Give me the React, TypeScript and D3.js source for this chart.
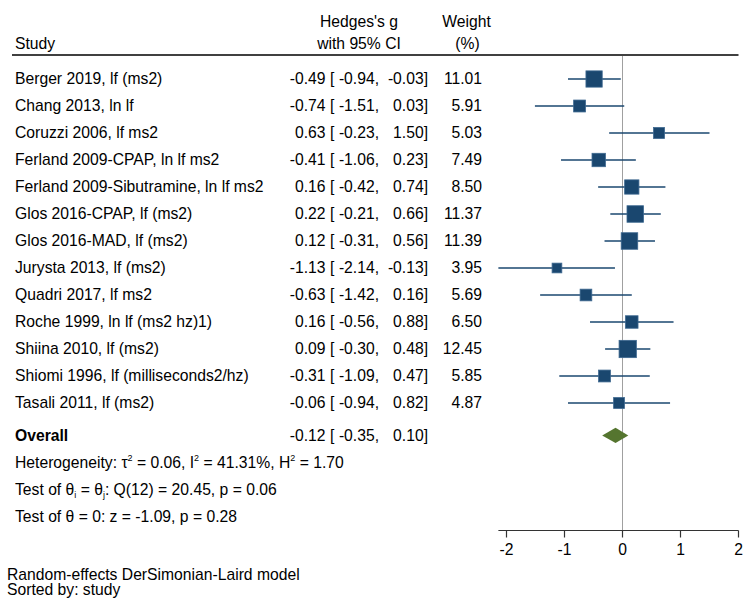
import React from "react";
import * as d3 from "d3";

const studies = [
  "Berger 2019, lf (ms2)",
  "Chang 2013, ln lf",
  "Coruzzi 2006, lf ms2",
  "Ferland 2009-CPAP, ln lf ms2",
  "Ferland 2009-Sibutramine, ln lf ms2",
  "Glos 2016-CPAP, lf (ms2)",
  "Glos 2016-MAD, lf (ms2)",
  "Jurysta 2013, lf (ms2)",
  "Quadri 2017, lf ms2",
  "Roche 1999, ln lf (ms2 hz)1)",
  "Shiina 2010, lf (ms2)",
  "Shiomi 1996, lf (milliseconds2/hz)",
  "Tasali 2011, lf (ms2)",
];
const effects = [-0.49, -0.74, 0.63, -0.41, 0.16, 0.22, 0.12, -1.13, -0.63, 0.16, 0.09, -0.31, -0.06];
const lowers = [-0.94, -1.51, -0.23, -1.06, -0.42, -0.21, -0.31, -2.14, -1.42, -0.56, -0.3, -1.09, -0.94];
const uppers = [-0.03, 0.03, 1.5, 0.23, 0.74, 0.66, 0.56, -0.13, 0.16, 0.88, 0.48, 0.47, 0.82];
const weights = [11.01, 5.91, 5.03, 7.49, 8.5, 11.37, 11.39, 3.95, 5.69, 6.5, 12.45, 5.85, 4.87];

const overallEffect = -0.12;
const overallLower = -0.35;
const overallUpper = 0.1;

const xTicks = [-2, -1, 0, 1, 2];

const W = 750;
const H = 604;
const FONT = "'Liberation Sans', Arial, Helvetica, sans-serif";
const FS = 15.7;
const NAVY = "#1a476f";
const GREEN = "#55752f";

const fmt = (v: number) => d3.format(".2f")(v).replace("\u2212", "-");

export default function App() {
  const x = d3.scaleLinear().domain([-2, 2]).range([506.5, 738.5]);
  const y = d3.scaleLinear().domain([0, 1]).range([79, 106]);
  const sizeScale = d3.scaleSqrt().domain([0, 1]).range([0, 4.9]);

  const xMin = Math.min(d3.min(lowers) as number, -2);
  const xMax = Math.max(d3.max(uppers) as number, 2);

  const overallRow = 13.2;
  const hetRow = 14.2;
  const test1Row = 15.2;
  const test2Row = 16.2;
  const axisY = 530.5;
  const ruleY = 55;
  const TX = 15;

  const effectCols = (e: number, lo: number, hi: number, yy: number) => (
    <g>
      <text x={325.5} y={yy} dy="0.35em" textAnchor="end">{fmt(e)}</text>
      <text x={330} y={yy} dy="0.35em" textAnchor="start">[</text>
      <text x={379} y={yy} dy="0.35em" textAnchor="end">{fmt(lo) + ","}</text>
      <text x={428} y={yy} dy="0.35em" textAnchor="end">{fmt(hi) + "]"}</text>
    </g>
  );

  return (
    <svg
      width={W}
      height={H}
      style={{ position: "absolute", left: 0, top: 0, background: "#fff" }}
      fontFamily={FONT}
      fontSize={FS}
      fill="#000"
    >
      <rect x={0} y={0} width={W} height={H} fill="#fff" />
      {/* Header */}
      <text x={TX} y={43.3} dy="0.35em">Study</text>
      <text x={359} y={21.7} dy="0.35em" textAnchor="middle">Hedges's g</text>
      <text x={359} y={43.3} dy="0.35em" textAnchor="middle">with 95% CI</text>
      <text x={466.5} y={21.7} dy="0.35em" textAnchor="middle">Weight</text>
      <text x={467.5} y={43.3} dy="0.35em" textAnchor="middle">(%)</text>
      <line x1={12} x2={738.5} y1={ruleY} y2={ruleY} stroke="#000" strokeWidth={1.6} />

      {/* zero line */}
      <line x1={x(0)} x2={x(0)} y1={ruleY + 1} y2={axisY} stroke="#a0a0a0" strokeWidth={1} />

      {/* Study rows */}
      {studies.map((s, i) => {
        const yy = y(i);
        const side = sizeScale(weights[i]);
        return (
          <g key={s}>
            <text x={TX} y={yy} dy="0.35em">{s}</text>
            {effectCols(effects[i], lowers[i], uppers[i], yy)}
            <text x={482} y={yy} dy="0.35em" textAnchor="end">{fmt(weights[i])}</text>
            <line x1={x(lowers[i])} x2={x(uppers[i])} y1={yy} y2={yy} stroke={NAVY} strokeWidth={1.5} />
            <rect
              x={x(effects[i]) - side / 2}
              y={yy - side / 2}
              width={side}
              height={side}
              fill={NAVY}
              stroke="#3d6890"
              strokeWidth={0.8}
            />
          </g>
        );
      })}

      {/* Overall */}
      <text x={TX} y={y(overallRow)} dy="0.35em" fontWeight="bold">Overall</text>
      {effectCols(overallEffect, overallLower, overallUpper, y(overallRow))}
      <path
        d={`M${x(overallLower)},${y(overallRow)} L${x(overallEffect)},${y(overallRow) - 7.7} L${x(overallUpper)},${y(overallRow)} L${x(overallEffect)},${y(overallRow) + 7.7} Z`}
        fill={GREEN}
      />

      {/* Heterogeneity & tests */}
      <text x={TX} y={y(hetRow)} dy="0.35em">
        Heterogeneity: τ
        <tspan dy={-7} fontSize={9}>2</tspan>
        <tspan dy={7}> = 0.06, I</tspan>
        <tspan dy={-7} fontSize={9}>2</tspan>
        <tspan dy={7}> = 41.31%, H</tspan>
        <tspan dy={-7} fontSize={9}>2</tspan>
        <tspan dy={7}> = 1.70</tspan>
      </text>
      <text x={TX} y={y(test1Row)} dy="0.35em">
        Test of θ
        <tspan dy={3} fontSize={9}>i</tspan>
        <tspan dy={-3}> = θ</tspan>
        <tspan dy={3} fontSize={9}>j</tspan>
        <tspan dy={-3}>: Q(12) = 20.45, p = 0.06</tspan>
      </text>
      <text x={TX} y={y(test2Row)} dy="0.35em">Test of θ = 0: z = -1.09, p = 0.28</text>

      {/* Axis */}
      <line x1={x(xMin)} x2={x(xMax)} y1={axisY} y2={axisY} stroke="#333" strokeWidth={1.2} />
      {xTicks.map((t) => (
        <g key={t}>
          <line x1={x(t)} x2={x(t)} y1={axisY} y2={axisY + 7} stroke="#333" strokeWidth={1.2} />
          <text x={x(t)} y={axisY + 19} dy="0.35em" textAnchor="middle">{String(t)}</text>
        </g>
      ))}

      {/* Footer */}
      <text x={7} y={575} dy="0.35em">Random-effects DerSimonian-Laird model</text>
      <text x={7} y={590} dy="0.35em">Sorted by: study</text>
    </svg>
  );
}
